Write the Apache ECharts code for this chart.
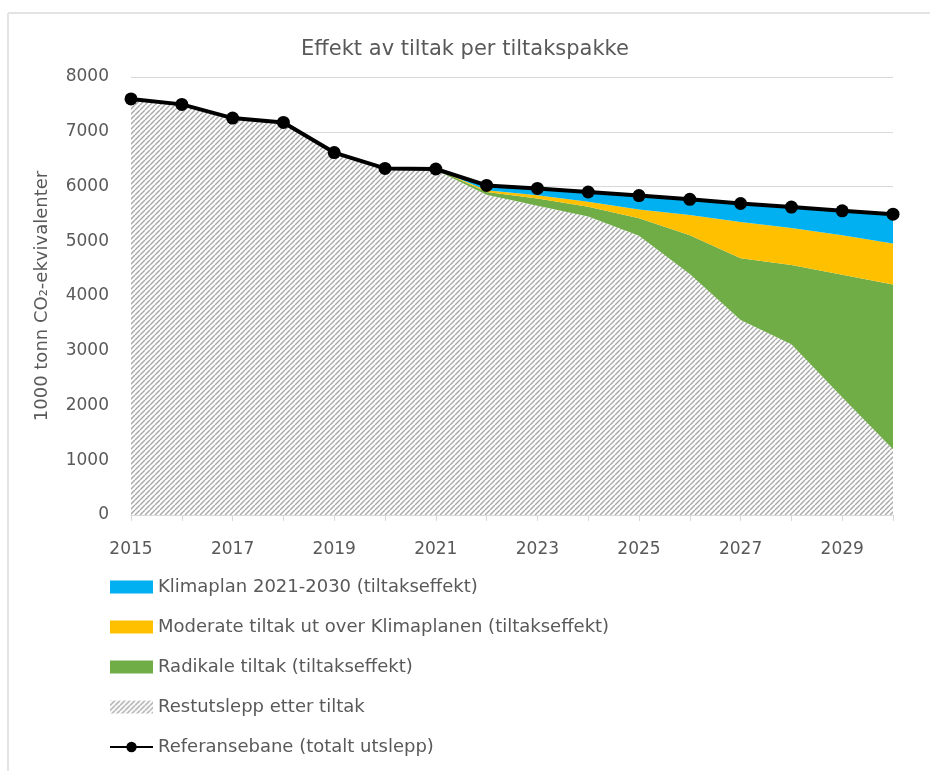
<!DOCTYPE html>
<html>
<head>
<meta charset="utf-8">
<script src="https://cdn.jsdelivr.net/npm/echarts@6/dist/echarts.min.js"></script>
<style>
  html, body { margin: 0; padding: 0; background: #fff; }
  #chart { width: 930px; height: 771px; }
</style>
</head>
<body>
<div id="chart"></div>
<script>
const years = ["2015", "2016", "2017", "2018", "2019", "2020", "2021", "2022",
  "2023", "2024", "2025", "2026", "2027", "2028", "2029", "2030"];

// stacked from the bottom: rest, radikale, moderate, klimaplan
const restutslipp = [7600, 7500, 7250, 7170, 6620, 6330, 6300, 5850,
  5650, 5450, 5100, 4400, 3560, 3120, 2150, 1200];
const radikale = [0, 0, 0, 0, 0, 0, 20, 50, 130, 180, 320, 710, 1130, 1445, 2240, 3010];
const moderate = [0, 0, 0, 0, 0, 0, 0, 30, 60, 90, 160, 370, 660, 675, 720, 750];
const klimaplan = [0, 0, 0, 0, 0, 0, 0, 90, 125, 180, 255, 285, 340, 385, 445, 535];
const referanse = [7600, 7500, 7250, 7170, 6620, 6330, 6320, 6020,
  5965, 5900, 5835, 5765, 5690, 5625, 5555, 5495];

const NAMES = {
  klima: "Klimaplan 2021-2030 (tiltakseffekt)",
  moderat: "Moderate tiltak ut over Klimaplanen (tiltakseffekt)",
  radikal: "Radikale tiltak (tiltakseffekt)",
  rest: "Restutslepp etter tiltak",
  ref: "Referansebane (totalt utslepp)",
};

const BLUE = "#00b0f0";
const YELLOW = "#ffc000";
const GREEN = "#70ad47";
const TEXT = "#595959";
const FONT = '"DejaVu Sans", "Open Sans", sans-serif';

// diagonal hatch tile
function hatchTile() {
  const c = document.createElement("canvas");
  c.width = 5;
  c.height = 5;
  const ctx = c.getContext("2d");
  ctx.fillStyle = "#ffffff";
  ctx.fillRect(0, 0, 5, 5);
  ctx.strokeStyle = "#a8a8a8";
  ctx.lineWidth = 1.45;
  for (const off of [-5, 0, 5]) {
    ctx.beginPath();
    ctx.moveTo(off, 5);
    ctx.lineTo(off + 5, 0);
    ctx.stroke();
  }
  return c;
}
const hatch = { image: hatchTile(), repeat: "repeat" };

function areaSeries(name, data, color) {
  return {
    name,
    type: "line",
    stack: "total",
    data,
    symbol: "none",
    showSymbol: false,
    lineStyle: { width: 0 },
    itemStyle: { color },
    areaStyle: { color, opacity: 1 },
    emphasis: { disabled: true },
    z: 2,
  };
}

const chart = echarts.init(document.getElementById("chart"), null, { renderer: "canvas" });

chart.setOption({
  animation: false,
  backgroundColor: "#ffffff",
  textStyle: { fontFamily: FONT, color: TEXT },
  title: {
    text: "Effekt av tiltak per tiltakspakke",
    left: "center",
    top: 34,
    textStyle: { fontFamily: FONT, fontSize: 21, fontWeight: "normal", color: TEXT },
  },
  graphic: [
    { type: "line", shape: { x1: 8, y1: 13, x2: 930, y2: 13 }, style: { stroke: "#e3e3e3", lineWidth: 2 } },
    { type: "line", shape: { x1: 8, y1: 13, x2: 8, y2: 771 }, style: { stroke: "#e3e3e3", lineWidth: 2 } },
  ],
  grid: { left: 131, right: 37, top: 77, bottom: 256, containLabel: false },
  legend: {
    orient: "vertical",
    left: 104,
    top: 573,
    itemWidth: 43,
    itemHeight: 13,
    itemGap: 22,
    textStyle: { fontFamily: FONT, fontSize: 18, color: TEXT },
    data: [
      { name: NAMES.klima, icon: "rect", itemStyle: { color: BLUE } },
      { name: NAMES.moderat, icon: "rect", itemStyle: { color: YELLOW } },
      { name: NAMES.radikal, icon: "rect", itemStyle: { color: GREEN } },
      { name: NAMES.rest, icon: "rect", itemStyle: { color: hatch } },
      { name: NAMES.ref },
    ],
  },
  xAxis: {
    type: "category",
    data: years,
    boundaryGap: false,
    axisLine: { lineStyle: { color: "#d9d9d9", width: 1 } },
    axisTick: { show: true, interval: 0, length: 6, lineStyle: { color: "#d9d9d9" } },
    axisLabel: { interval: 1, margin: 26, fontSize: 17, color: TEXT, fontFamily: FONT },
    splitLine: { show: false },
  },
  yAxis: {
    type: "value",
    min: 0,
    max: 8000,
    interval: 1000,
    name: "1000 tonn CO\u2082-ekvivalenter",
    nameLocation: "middle",
    nameGap: 80,
    nameTextStyle: { fontFamily: FONT, fontSize: 18, color: TEXT },
    axisLine: { show: false },
    axisTick: { show: false },
    axisLabel: {
      margin: 22,
      fontSize: 17,
      color: TEXT,
      fontFamily: FONT,
      formatter: (v) => String(v),
    },
    splitLine: { lineStyle: { color: "#d9d9d9", width: 1 } },
  },
  series: [
    areaSeries(NAMES.rest, restutslipp, hatch),
    areaSeries(NAMES.radikal, radikale, GREEN),
    areaSeries(NAMES.moderat, moderate, YELLOW),
    areaSeries(NAMES.klima, klimaplan, BLUE),
    {
      name: NAMES.ref,
      type: "line",
      data: referanse,
      symbol: "circle",
      symbolSize: 13,
      itemStyle: { color: "#000000" },
      lineStyle: { color: "#000000", width: 4 },
      z: 5,
    },
  ],
});
</script>
</body>
</html>
